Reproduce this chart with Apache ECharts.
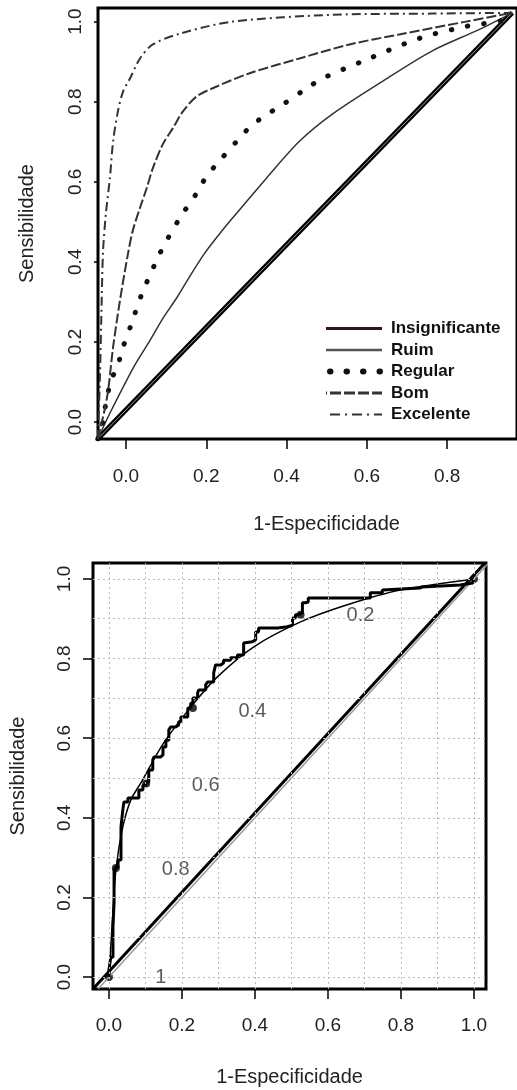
<!DOCTYPE html>
<html>
<head>
<meta charset="utf-8">
<script src="https://cdn.jsdelivr.net/npm/echarts@6/dist/echarts.min.js"></script>
<style>
html, body { margin: 0; padding: 0; background: #fff; }
#chart { width: 517px; height: 1090px; }
</style>
</head>
<body>
<div id="chart"></div>
<script>
// ---- grafico de cima: curvas ROC teoricas ----
var legendNames = ['Insignificante', 'Ruim', 'Regular', 'Bom', 'Excelente'];
var topXTicks = [0.0, 0.2, 0.4, 0.6, 0.8];
var topYTicks = [0.0, 0.2, 0.4, 0.6, 0.8, 1.0];

var insigPts = [[-0.07, -0.042], [0.962, 1.022]];
var ruimPts = [[-0.07, -0.042], [-0.04, 0.022], [0.022, 0.142], [0.060, 0.204], [0.092, 0.259],
    [0.127, 0.311], [0.159, 0.364], [0.195, 0.420], [0.230, 0.466], [0.266, 0.510], [0.350, 0.609],
    [0.432, 0.701], [0.514, 0.769], [0.639, 0.851], [0.763, 0.927], [0.879, 0.980], [0.962, 1.022]];
var regularPts = [[-0.07, -0.042], [-0.060, -0.012], [-0.052, 0.035], [-0.045, 0.072], [-0.035, 0.109],
    [-0.020, 0.142], [-0.010, 0.179], [0.015, 0.249], [0.040, 0.321], [0.084, 0.420],
    [0.104, 0.458], [0.142, 0.522], [0.164, 0.552], [0.201, 0.614], [0.226, 0.644],
    [0.276, 0.701], [0.303, 0.731], [0.333, 0.756], [0.395, 0.796], [0.457, 0.838],
    [0.489, 0.858], [0.599, 0.905], [0.730, 0.958], [0.847, 0.988], [0.947, 1.005], [0.962, 1.022]];
var bomPts = [[-0.07, -0.042], [-0.047, 0.062], [-0.032, 0.187], [-0.015, 0.303], [0.005, 0.420],
    [0.017, 0.478], [0.035, 0.535], [0.052, 0.585], [0.067, 0.634], [0.092, 0.694],
    [0.117, 0.734], [0.142, 0.776], [0.176, 0.813], [0.226, 0.838], [0.308, 0.871],
    [0.432, 0.908], [0.557, 0.943], [0.681, 0.968], [0.847, 1.000], [0.962, 1.022]];
var excelPts = [[-0.07, -0.042], [-0.065, 0.104], [-0.060, 0.321], [-0.057, 0.428], [-0.050, 0.520],
    [-0.040, 0.609], [-0.032, 0.701], [-0.020, 0.776], [-0.007, 0.826], [0.010, 0.858],
    [0.035, 0.908], [0.067, 0.943], [0.134, 0.970], [0.266, 1.000], [0.514, 1.017],
    [0.763, 1.020], [0.962, 1.022]];

// ---- grafico de baixo: curva ROC empirica + ajustada ----
var botTicks = [0.0, 0.2, 0.4, 0.6, 0.8, 1.0];
var gridVals = [0, 0.1, 0.2, 0.3, 0.4, 0.5, 0.6, 0.7, 0.8, 0.9, 1.0];
var stepPts = [[0, 0], [0, 0.018], [0.005, 0.05], [0.011, 0.068], [0.011, 0.126], [0.014, 0.186],
    [0.014, 0.269], [0.019, 0.276], [0.025, 0.294], [0.033, 0.377], [0.038, 0.42],
    [0.041, 0.44], [0.052, 0.45], [0.068, 0.45], [0.082, 0.47], [0.093, 0.482],
    [0.101, 0.49], [0.109, 0.52], [0.120, 0.545], [0.123, 0.553], [0.142, 0.558],
    [0.148, 0.578], [0.156, 0.595], [0.164, 0.621], [0.169, 0.628], [0.183, 0.633],
    [0.191, 0.641], [0.197, 0.653], [0.216, 0.676], [0.224, 0.688], [0.230, 0.701],
    [0.243, 0.714], [0.246, 0.721], [0.265, 0.734], [0.270, 0.741], [0.287, 0.764],
    [0.292, 0.784], [0.306, 0.789], [0.314, 0.796], [0.333, 0.802], [0.352, 0.809],
    [0.369, 0.839], [0.374, 0.842], [0.393, 0.847], [0.402, 0.867], [0.410, 0.877],
    [0.437, 0.877], [0.462, 0.879], [0.484, 0.884], [0.503, 0.902], [0.511, 0.910],
    [0.519, 0.915], [0.530, 0.940], [0.538, 0.942], [0.546, 0.952], [0.689, 0.952],
    [0.716, 0.965], [0.749, 0.972], [0.751, 0.977], [0.852, 0.980], [0.858, 0.985],
    [0.962, 0.990], [0.997, 0.997], [1.0, 1.0]];
var fitPts = [[0, 0], [0.008, 0.12], [0.019, 0.269], [0.038, 0.377], [0.06, 0.445], [0.087, 0.487],
    [0.15, 0.588], [0.224, 0.678], [0.297, 0.754], [0.396, 0.829], [0.525, 0.892],
    [0.653, 0.935], [0.798, 0.972], [1.0, 1.0]];
var dotPts = [[0, 0], [0.019, 0.274], [0.102, 0.486], [0.23, 0.676], [0.525, 0.91], [1.0, 1.0]];
var threshLabels = ['0.2', '0.4', '0.6', '0.8', '1'];
var threshX = [0.689, 0.393, 0.265, 0.183, 0.142];
var threshY = [0.907, 0.668, 0.482, 0.269, 0.0];
var diagBlack = [[-0.044, -0.03], [1.03, 1.04]];
var diagGrey = [[-0.03, -0.03], [1.04, 1.04]];

var fnt = 'Liberation Sans, Arial, sans-serif';
function fmt1(v) { return v.toFixed(1); }

var myChart = echarts.init(document.getElementById('chart'));
var option = {
    animation: false,
    grid: [
        { left: 98, top: 8, width: 420, height: 431, show: true, borderColor: '#000', borderWidth: 3 },
        { left: 92, top: 563, width: 394, height: 426, show: true, borderColor: '#000', borderWidth: 3 }
    ],
    legend: {
        orient: 'vertical',
        left: 323,
        top: 320,
        padding: 0,
        itemWidth: 56,
        itemHeight: 16,
        itemGap: 4.5,
        itemStyle: { color: 'rgba(0,0,0,0)', opacity: 0, borderWidth: 0 },
        textStyle: { fontFamily: fnt, fontSize: 17, fontWeight: 'bold', color: '#111', padding: [0, 0, 0, 4] },
        data: [
            { name: legendNames[0], lineStyle: { color: '#3a1414', width: 3 } },
            { name: legendNames[1], lineStyle: { color: '#555', width: 2.5 } },
            { name: legendNames[2], lineStyle: { color: '#111', width: 6, type: [0.5, 16], cap: 'round', dashOffset: -4 } },
            { name: legendNames[3], lineStyle: { color: '#333', width: 3, type: [11, 3] } },
            { name: legendNames[4], lineStyle: { color: '#333', width: 2, type: [10, 5, 2, 5] } }
        ]
    },
    xAxis: [{
        type: 'value', gridIndex: 0,
        min: -0.0696, max: 0.9739,
        axisLine: { show: false, onZero: false },
        splitLine: { show: false },
        axisTick: { show: true, length: 10, customValues: topXTicks, lineStyle: { color: '#000', width: 1.5 } },
        axisLabel: { customValues: topXTicks, formatter: fmt1, margin: 28, fontSize: 19, fontFamily: fnt, color: '#222' },
        name: '1-Especificidade', nameLocation: 'middle', nameGap: 75,
        nameTextStyle: { fontSize: 20, fontFamily: fnt, color: '#222', padding: [0, 0, 0, 38] }
    }, {
        type: 'value', gridIndex: 1,
        min: -0.0437, max: 1.033,
        axisLine: { show: false, onZero: false },
        splitLine: { show: false },
        axisTick: { show: true, length: 10, customValues: botTicks, lineStyle: { color: '#000', width: 1.5 } },
        axisLabel: { customValues: botTicks, formatter: fmt1, margin: 27, fontSize: 19, fontFamily: fnt, color: '#222' },
        name: '1-Especificidade', nameLocation: 'middle', nameGap: 78,
        nameTextStyle: { fontSize: 20, fontFamily: fnt, color: '#222' }
    }],
    yAxis: [{
        type: 'value', gridIndex: 0,
        min: -0.0424, max: 1.034,
        axisLine: { show: false, onZero: false },
        splitLine: { show: false },
        axisTick: { show: true, length: 4, customValues: topYTicks, lineStyle: { color: '#000', width: 1.5 } },
        axisLabel: { customValues: topYTicks, formatter: fmt1, rotate: 90, margin: 13, fontSize: 19, fontFamily: fnt, color: '#222' },
        name: 'Sensibilidade', nameLocation: 'middle', nameGap: 61,
        nameTextStyle: { fontSize: 20, fontFamily: fnt, color: '#222' }
    }, {
        type: 'value', gridIndex: 1,
        min: -0.030, max: 1.040,
        axisLine: { show: false, onZero: false },
        splitLine: { show: false },
        axisTick: { show: true, length: 10, customValues: botTicks, lineStyle: { color: '#000', width: 1.5 } },
        axisLabel: { customValues: botTicks, formatter: fmt1, rotate: 90, margin: 19, fontSize: 19, fontFamily: fnt, color: '#222' },
        name: 'Sensibilidade', nameLocation: 'middle', nameGap: 65,
        nameTextStyle: { fontSize: 20, fontFamily: fnt, color: '#222' }
    }],
    series: [
        // cima
        { name: 'Insignificante', type: 'line', xAxisIndex: 0, yAxisIndex: 0, data: insigPts, symbol: 'none',
          lineStyle: { color: '#000', width: 5 }, itemStyle: { color: '#000' } },
        { name: '', type: 'line', xAxisIndex: 0, yAxisIndex: 0, data: insigPts, symbol: 'none', silent: true,
          lineStyle: { color: '#999', width: 1 } },
        { name: 'Ruim', type: 'line', xAxisIndex: 0, yAxisIndex: 0, data: ruimPts, symbol: 'none', smooth: 0.3,
          lineStyle: { color: '#333', width: 1.5 }, itemStyle: { color: '#333' } },
        { name: 'Regular', type: 'line', xAxisIndex: 0, yAxisIndex: 0, data: regularPts, symbol: 'none', smooth: 0.3,
          lineStyle: { color: '#111', width: 5, type: [0.5, 16], cap: 'round' }, itemStyle: { color: '#111' } },
        { name: 'Bom', type: 'line', xAxisIndex: 0, yAxisIndex: 0, data: bomPts, symbol: 'none', smooth: 0.3,
          lineStyle: { color: '#333', width: 2, type: [10, 3] }, itemStyle: { color: '#333' } },
        { name: 'Excelente', type: 'line', xAxisIndex: 0, yAxisIndex: 0, data: excelPts, symbol: 'none', smooth: 0.3,
          lineStyle: { color: '#333', width: 2, type: [9, 4, 2, 4] }, itemStyle: { color: '#333' } },
        // baixo
        { type: 'line', xAxisIndex: 1, yAxisIndex: 1, data: diagGrey, symbol: 'none', silent: true,
          lineStyle: { color: '#999', width: 1.5 },
          markLine: {
              silent: true, symbol: 'none', label: { show: false },
              lineStyle: { color: '#bbb', width: 1, type: [2, 3] },
              data: gridVals.map(function (v) { return { xAxis: v }; })
                  .concat(gridVals.map(function (v) { return { yAxis: v }; }))
          } },
        { type: 'line', xAxisIndex: 1, yAxisIndex: 1, data: diagBlack, symbol: 'none', silent: true,
          lineStyle: { color: '#000', width: 3 } },
        { type: 'line', xAxisIndex: 1, yAxisIndex: 1, data: fitPts, symbol: 'none', smooth: 0.3, silent: true,
          lineStyle: { color: '#000', width: 1.5 } },
        { type: 'line', xAxisIndex: 1, yAxisIndex: 1, data: stepPts, symbol: 'none', step: 'end', silent: true,
          lineStyle: { color: '#000', width: 3 } },
        { type: 'scatter', xAxisIndex: 1, yAxisIndex: 1, data: dotPts, symbolSize: 8, silent: true,
          itemStyle: { color: '#000' } },
        { type: 'scatter', xAxisIndex: 1, yAxisIndex: 1, symbolSize: 1, silent: true,
          itemStyle: { color: 'rgba(0,0,0,0)' },
          data: threshX.map(function (x, i) { return [x, threshY[i], threshLabels[i]]; }),
          label: { show: true, position: 'inside', formatter: function (p) { return p.value[2]; },
                   fontSize: 20, fontFamily: fnt, color: '#333' } }
    ]
};
myChart.setOption(option);
</script>
</body>
</html>
